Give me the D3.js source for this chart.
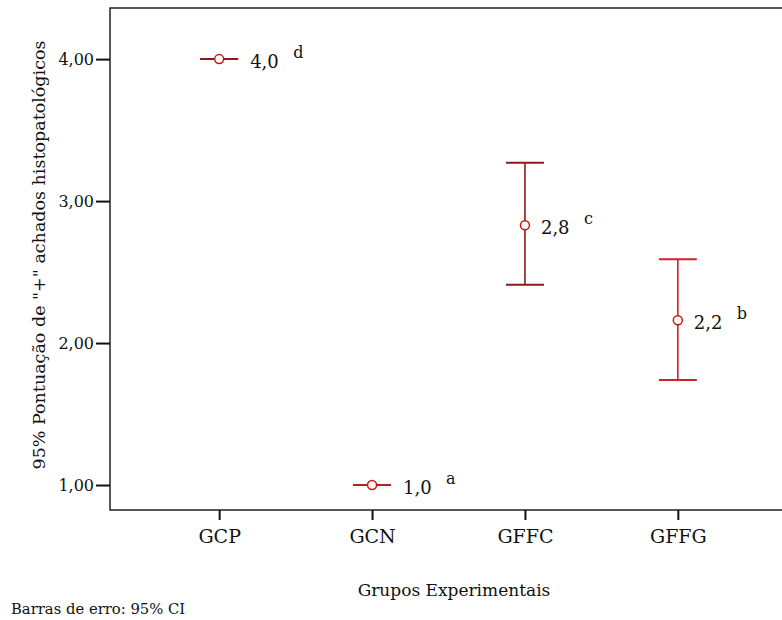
<!DOCTYPE html>
<html>
<head>
<meta charset="utf-8">
<script src="https://cdn.jsdelivr.net/npm/d3@7"></script>
<style>
  body { margin: 0; background: #fff; }
  text { font-family: "DejaVu Serif", "Liberation Serif", serif; }
</style>
</head>
<body>
<div id="chart"></div>
<script>
// Data
const groups = ["GCP", "GCN", "GFFC", "GFFG"];
const means = [4.0, 1.0, 2.83, 2.16];
const lowerCI = [4.0, 1.0, 2.41, 1.74];
const upperCI = [4.0, 1.0, 3.27, 2.59];
const meanLabels = ["4,0", "1,0", "2,8", "2,2"];
const letters = ["d", "a", "c", "b"];
const barColors = ["#8b1a1a", "#b22222", "#8b1a1a", "#cc2229"];
const yTicks = [1, 2, 3, 4];

const data = groups.map((g, i) => ({
    group: g, mean: means[i], lo: lowerCI[i], hi: upperCI[i],
    label: meanLabels[i], letter: letters[i], color: barColors[i]
}));

const serif = "'DejaVu Serif', 'Liberation Serif', serif";

// Dimensions
const width = 782, height = 620;
const plot = {left: 110, top: 8, right: 787, bottom: 510};

const xScale = d3.scalePoint()
    .domain(groups)
    .range([plot.left, plot.right])
    .padding(0.714);

const yScale = d3.scaleLinear()
    .domain([0.824, 4.36])
    .range([plot.bottom, plot.top]);

const svg = d3.select("#chart")
    .append("svg")
        .attr("width", width)
        .attr("height", height);

// Frame
svg.append("rect")
    .attr("x", plot.left)
    .attr("y", plot.top)
    .attr("width", plot.right - plot.left)
    .attr("height", plot.bottom - plot.top)
    .attr("fill", "none")
    .attr("stroke", "#222")
    .attr("stroke-width", 1.5);

// Y axis
const yAxis = svg.append("g")
    .attr("transform", `translate(${plot.left},0)`)
    .call(d3.axisLeft(yScale)
        .tickValues(yTicks)
        .tickSize(14)
        .tickPadding(2)
        .tickFormat(d => d3.format(".2f")(d).replace(".", ",")));
yAxis.attr("font-family", serif);
yAxis.select(".domain").remove();
yAxis.selectAll(".tick line").attr("stroke", "#111").attr("stroke-width", 2);
yAxis.selectAll(".tick text")
    .attr("fill", "#111")
    .style("font-size", "16px")
    .style("font-family", serif);

// X axis
const xAxis = svg.append("g")
    .attr("transform", `translate(0,${plot.bottom})`)
    .call(d3.axisBottom(xScale)
        .tickSize(10)
        .tickPadding(10));
xAxis.attr("font-family", serif);
xAxis.select(".domain").remove();
xAxis.selectAll(".tick line").attr("stroke", "#111").attr("stroke-width", 2);
xAxis.selectAll(".tick text")
    .attr("fill", "#111")
    .style("font-size", "19px")
    .style("font-family", serif);

// Axis titles
svg.append("text")
    .attr("transform", `translate(45,${(plot.top + plot.bottom) / 2 - 4}) rotate(-90)`)
    .attr("text-anchor", "middle")
    .style("font-size", "17.5px")
    .style("font-family", serif)
    .attr("fill", "#111")
    .text('95% Pontuação de "+" achados histopatológicos');

svg.append("text")
    .attr("x", 454)
    .attr("y", 596)
    .attr("text-anchor", "middle")
    .style("font-size", "17px")
    .style("font-family", serif)
    .attr("fill", "#111")
    .text("Grupos Experimentais");

svg.append("text")
    .attr("x", 11)
    .attr("y", 614)
    .style("font-size", "14.8px")
    .style("font-family", serif)
    .attr("fill", "#111")
    .text("Barras de erro: 95% CI");

// Error bars
const capHalf = 19;
const bars = svg.append("g").attr("id", "errorBars");

bars.selectAll("line.stem")
    .data(data)
    .join("line")
        .attr("class", "stem")
        .attr("x1", d => xScale(d.group))
        .attr("x2", d => xScale(d.group))
        .attr("y1", d => yScale(d.lo))
        .attr("y2", d => yScale(d.hi))
        .attr("stroke", d => d.color)
        .attr("stroke-width", 1.6);

bars.selectAll("line.capHi")
    .data(data)
    .join("line")
        .attr("class", "capHi")
        .attr("x1", d => xScale(d.group) - capHalf)
        .attr("x2", d => xScale(d.group) + capHalf)
        .attr("y1", d => yScale(d.hi))
        .attr("y2", d => yScale(d.hi))
        .attr("stroke", d => d.color)
        .attr("stroke-width", 2);

bars.selectAll("line.capLo")
    .data(data)
    .join("line")
        .attr("class", "capLo")
        .attr("x1", d => xScale(d.group) - capHalf)
        .attr("x2", d => xScale(d.group) + capHalf)
        .attr("y1", d => yScale(d.lo))
        .attr("y2", d => yScale(d.lo))
        .attr("stroke", d => d.color)
        .attr("stroke-width", 2);

// Mean points
svg.append("g")
    .selectAll("circle")
    .data(data)
    .join("circle")
        .attr("cx", d => xScale(d.group))
        .attr("cy", d => yScale(d.mean))
        .attr("r", 4.5)
        .attr("fill", "#fff")
        .attr("stroke", "#d01010")
        .attr("stroke-width", 1.5);

// Labels: placed after the cap when the interval is flat
const labelX = d => xScale(d.group) + (d.hi === d.lo ? capHalf + 12 : 16);
const labels = svg.append("g").attr("fill", "#111");

labels.selectAll("text.mean")
    .data(data)
    .join("text")
        .attr("class", "mean")
        .attr("x", labelX)
        .attr("y", d => yScale(d.mean) + 9)
        .style("font-size", "18px")
        .style("font-family", serif)
        .text(d => d.label);

labels.selectAll("text.letter")
    .data(data)
    .join("text")
        .attr("class", "letter")
        .attr("x", d => labelX(d) + 43)
        .attr("y", d => yScale(d.mean) - 1)
        .style("font-size", "16px")
        .style("font-family", serif)
        .text(d => d.letter);
</script>
</body>
</html>
